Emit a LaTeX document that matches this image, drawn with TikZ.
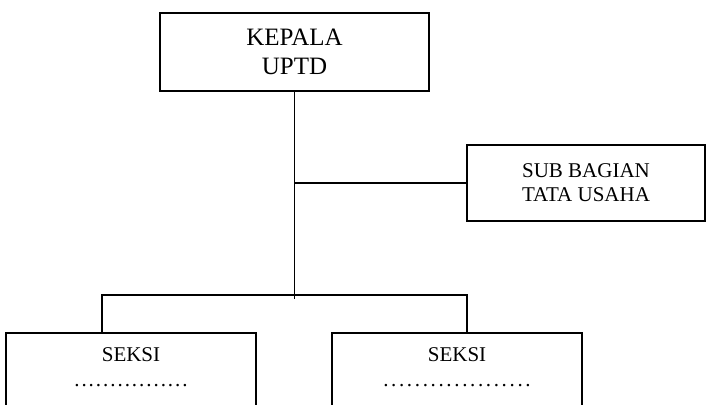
\documentclass[tikz,border=0pt]{standalone}
\usepackage{fontspec}
\setmainfont{Liberation Serif}
\usetikzlibrary{positioning,calc}
\tikzset{
    block/.style = {draw, rectangle, line width=1.8pt, align=center, inner sep=0pt},
    unit/.style = {block, anchor=north, minimum width=250pt, inner ysep=15pt,
        text depth=60pt, font=\fontsize{21}{25}\selectfont},
    link/.style = {draw, line width=1.8pt}
}
\newcommand{\dotrow}[2]{{\addfontfeature{LetterSpace=#1}#2}}

\begin{document}
\begin{tikzpicture}[x=1pt,y=1pt]
            \useasboundingbox (0,0) rectangle (706,-404);
            \clip (0,0) rectangle (706,-404);
            \node[block, minimum width=269pt, minimum height=78pt, font=\fontsize{25}{29}\selectfont] (kepala) at (294.5,-52) {KEPALA\\UPTD};
            \node[block, minimum width=238pt, minimum height=76pt, font=\fontsize{21}{24}\selectfont] (tatausaha) at (586,-183) {SUB BAGIAN\\TATA USAHA};
            \node[unit] (seksiA) at (131,-332) {SEKSI\\\dotrow{9.3}{................}};
            \node[unit] (seksiB) at (457,-332) {SEKSI\\\dotrow{12.6}{...................}};
            \coordinate (busL) at (102,-295);
            \coordinate (busR) at (467,-295);
            % garis
            \draw[link] (kepala.south) -- ($(kepala.south |- busL)+(0,-4)$);
            \draw[link] (kepala.south |- tatausaha.west) -- (tatausaha.west);
            \draw[link] (busL |- seksiA.north) |- (busR) -- (busR |- seksiB.north);
\end{tikzpicture}
\end{document}
